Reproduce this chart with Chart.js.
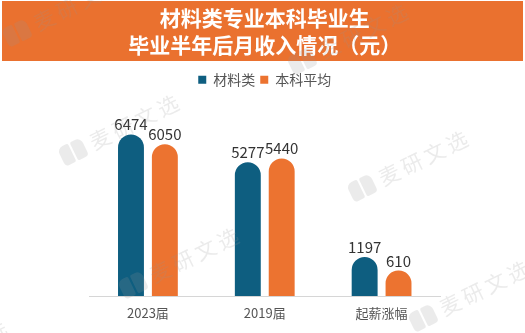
<!doctype html>
<html>
<head>
<meta charset="utf-8">
<title>材料类专业本科毕业生月收入</title>
<script src="https://cdn.jsdelivr.net/npm/chart.js@4.4.0/dist/chart.umd.min.js"></script>
<style>
  html, body { margin: 0; padding: 0; background: #fff; }
  #wrap { width: 525px; height: 333px; }
</style>
</head>
<body>
<div id="wrap"><canvas id="income" width="525" height="333"></canvas></div>
<script>
const categories = ['2023届', '2019届', '起薪涨幅'];
const seriesNames = ['材料类', '本科平均'];
const materialValues = [6474, 5277, 1197];
const averageValues = [6050, 5440, 610];
const titleLines = ['材料类专业本科毕业生', '毕业半年后月收入情况（元）'];

const BLUE = '#0e5e80';
const ORANGE = '#ec7330';
const FONT = '"Noto Sans CJK SC", "Noto Sans", sans-serif';

// bars start a little below zero so the round cap doesn't swallow the short ones
const BAR_BASE = -483;

// watermark anchors (logo centre), repeated across the card
const stamps = [[17, 33], [302, 61], [73, 152], [133, 285], [362, 188], [423, 318], [-98, 379]];

const banner = {
  id: 'banner',
  beforeDraw(chart) {
    const ctx = chart.ctx;
    ctx.save();
    ctx.fillStyle = '#ea712f';
    ctx.fillRect(2, 1, 521, 60);
    ctx.restore();
  }
};

const valueLabels = {
  id: 'valueLabels',
  afterDatasetsDraw(chart) {
    const ctx = chart.ctx;
    ctx.save();
    ctx.font = '15px ' + FONT;
    ctx.fillStyle = '#333';
    ctx.textAlign = 'center';
    ctx.textBaseline = 'alphabetic';
    chart.data.datasets.forEach((ds, i) => {
      chart.getDatasetMeta(i).data.forEach((bar, j) => {
        ctx.fillText(String(ds.data[j]), bar.x, bar.y - 4);
      });
    });
    ctx.restore();
  }
};

const watermark = {
  id: 'watermark',
  afterDraw(chart) {
    const ctx = chart.ctx;
    ctx.save();
    ctx.fillStyle = 'rgba(150,150,150,0.19)';
    stamps.forEach(([x, y]) => {
      ctx.save();
      ctx.translate(x, y);
      ctx.rotate(-26 * Math.PI / 180);
      // little open-book logo
      ctx.beginPath();
      ctx.roundRect(-13, -10, 12, 20, [6, 2, 2, 4]);
      ctx.roundRect(1, -10, 12, 20, [2, 6, 4, 2]);
      ctx.fill();
      ctx.font = '21px ' + FONT;
      ctx.textBaseline = 'middle';
      ['麦', '研', '文', '选'].forEach((ch, k) => ctx.fillText(ch, 20 + k * 25, 0));
      ctx.restore();
    });
    ctx.restore();
  }
};

new Chart(document.getElementById('income'), {
  type: 'bar',
  data: {
    labels: categories,
    datasets: [
      { label: seriesNames[0], data: materialValues, backgroundColor: BLUE },
      { label: seriesNames[1], data: averageValues, backgroundColor: ORANGE }
    ]
  },
  options: {
    responsive: false,
    animation: false,
    layout: { padding: { left: 89.5, right: 85, top: 0, bottom: 3 } },
    datasets: {
      bar: {
        base: BAR_BASE,
        categoryPercentage: 0.58,
        barPercentage: 0.765,
        borderRadius: { topLeft: 13, topRight: 13, bottomLeft: 0, bottomRight: 0 },
        borderSkipped: false
      }
    },
    plugins: {
      title: {
        display: true,
        text: titleLines,
        color: '#fff',
        font: { family: FONT, size: 21, weight: 'bold', lineHeight: 1.29 },
        padding: { top: 4.5, bottom: 9 }
      },
      legend: {
        display: true,
        labels: {
          boxWidth: 8,
          boxHeight: 8,
          padding: 5,
          color: '#555',
          font: { family: FONT, size: 14 }
        }
      },
      tooltip: { enabled: false }
    },
    scales: {
      x: {
        grid: { display: false, drawTicks: false },
        border: { display: true, color: '#d6d6d6', width: 1 },
        ticks: { color: '#555', padding: 9.2, font: { family: FONT, size: 13 } }
      },
      y: {
        display: false,
        min: BAR_BASE,
        max: 8100
      }
    }
  },
  plugins: [banner, valueLabels, watermark]
});
</script>
</body>
</html>
